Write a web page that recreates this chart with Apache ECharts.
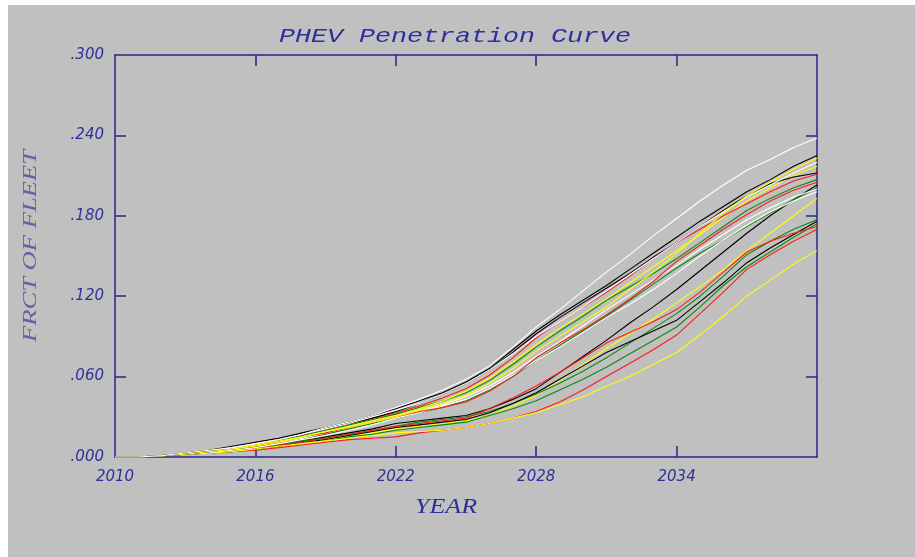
<!DOCTYPE html>
<html>
<head>
<meta charset="utf-8">
<script src="https://cdn.jsdelivr.net/npm/echarts@6/dist/echarts.min.js"></script>
<style>
  html, body { margin: 0; padding: 0; background: #ffffff; }
  #chart { width: 915px; height: 557px; }
</style>
</head>
<body>
<div id="chart"></div>
<script>
// Simulated PHEV share of the vehicle fleet, one run per line
const years = [2010, 2011, 2012, 2013, 2014, 2015, 2016, 2017, 2018, 2019, 2020,
  2021, 2022, 2023, 2024, 2025, 2026, 2027, 2028, 2029, 2030,
  2031, 2032, 2033, 2034, 2035, 2036, 2037, 2038, 2039, 2040];

const xTicks = [2010, 2016, 2022, 2028, 2034];
const xInnerTicks = [2016, 2022, 2028, 2034];
const yTicks = [0, 0.06, 0.12, 0.18, 0.24, 0.30];
const yInnerTicks = [0.06, 0.12, 0.18, 0.24];

// faster-adoption runs
const runW1 = [0, 0, .001, .003, .005, .007, .010, .013, .017, .022, .026, .031, .037, .043, .050, .058, .068, .082, .097, .110, .124, .138, .151, .165, .178, .191, .203, .214, .222, .231, .238];
const runK1 = [0, 0, .001, .003, .005, .008, .011, .014, .018, .022, .026, .031, .036, .042, .048, .056, .066, .080, .094, .106, .117, .128, .140, .152, .164, .176, .187, .198, .207, .217, .225];
const runK2 = [0, 0, .001, .002, .004, .007, .010, .013, .017, .021, .025, .029, .034, .040, .047, .055, .065, .078, .092, .104, .115, .126, .137, .149, .160, .172, .184, .195, .204, .209, .212];
const runR1 = [0, 0, .001, .003, .005, .007, .011, .014, .017, .021, .025, .029, .033, .038, .044, .051, .061, .074, .089, .101, .112, .123, .135, .148, .160, .170, .180, .189, .198, .206, .211];
const runG1 = [0, 0, .001, .002, .004, .006, .009, .012, .016, .020, .024, .028, .032, .037, .042, .048, .057, .069, .082, .094, .105, .117, .127, .137, .148, .160, .172, .184, .193, .201, .207];
const runY1 = [0, 0, .001, .002, .004, .006, .009, .012, .015, .019, .022, .026, .030, .035, .040, .046, .055, .066, .079, .090, .101, .112, .125, .138, .152, .167, .182, .195, .205, .215, .223];
const runW2 = [0, 0, .001, .003, .005, .007, .010, .013, .017, .021, .025, .030, .035, .040, .047, .055, .065, .077, .090, .101, .112, .124, .136, .148, .160, .172, .183, .194, .203, .212, .220];
const runR2 = [0, 0, .001, .002, .004, .006, .008, .011, .015, .018, .022, .026, .030, .034, .037, .041, .049, .060, .074, .085, .095, .106, .118, .131, .146, .158, .170, .181, .191, .199, .205];
const runW3 = [0, 0, .001, .002, .004, .006, .009, .011, .014, .018, .022, .026, .030, .034, .039, .045, .053, .063, .075, .086, .098, .110, .121, .132, .143, .155, .166, .177, .186, .194, .200];
const runG2 = [0, 0, .001, .002, .004, .005, .008, .010, .013, .017, .021, .025, .029, .033, .037, .042, .050, .060, .072, .083, .094, .105, .117, .129, .141, .152, .162, .172, .182, .192, .201];
const runW4 = [0, 0, .001, .002, .003, .005, .007, .010, .013, .016, .020, .024, .029, .033, .038, .043, .051, .061, .072, .082, .093, .104, .114, .125, .137, .150, .162, .173, .183, .191, .198];
const runY2 = [0, 0, .001, .002, .004, .006, .008, .011, .015, .019, .023, .027, .031, .036, .042, .049, .059, .071, .084, .096, .107, .118, .130, .142, .154, .166, .179, .191, .201, .210, .217];

// slower-adoption runs
const runK3 = [0, 0, .001, .002, .003, .005, .007, .009, .012, .015, .018, .021, .025, .027, .029, .031, .036, .043, .051, .063, .075, .087, .100, .112, .125, .139, .153, .167, .180, .192, .203];
const runY3 = [0, 0, .001, .002, .003, .004, .006, .008, .010, .013, .015, .018, .021, .023, .025, .027, .031, .038, .046, .057, .069, .081, .092, .103, .115, .127, .140, .154, .167, .180, .193];
const runG3 = [0, 0, .001, .002, .003, .005, .007, .009, .012, .014, .017, .020, .023, .026, .028, .030, .034, .040, .047, .055, .064, .074, .085, .096, .107, .120, .135, .151, .161, .170, .177];
const runK4 = [0, 0, .001, .002, .003, .004, .006, .008, .011, .013, .016, .019, .022, .024, .026, .028, .033, .040, .048, .058, .068, .078, .086, .094, .102, .116, .130, .145, .156, .166, .176];
const runG4 = [0, 0, .001, .002, .003, .004, .006, .008, .010, .012, .015, .017, .020, .022, .024, .026, .031, .036, .042, .050, .058, .067, .077, .087, .097, .112, .128, .142, .153, .164, .174];
const runR3 = [0, 0, .001, .002, .003, .005, .007, .009, .011, .014, .017, .020, .023, .025, .027, .029, .036, .044, .053, .063, .074, .085, .093, .101, .110, .123, .138, .153, .161, .167, .172];
const runR4 = [0, 0, .001, .002, .003, .004, .005, .007, .009, .011, .013, .014, .015, .018, .020, .022, .025, .029, .034, .041, .050, .060, .070, .080, .091, .107, .123, .140, .151, .161, .170];
const runY4 = [0, 0, .001, .002, .003, .004, .006, .008, .010, .012, .014, .016, .018, .019, .020, .022, .025, .029, .033, .039, .045, .053, .060, .069, .078, .091, .105, .120, .132, .144, .154];

const PALETTE = { W: '#ffffff', K: '#000000', R: '#ff1a1a', G: '#0a8a0a', Y: '#ffff00' };

// drawing order (later entries sit on top)
const runs = [
  ['K3', runK3, 'K'], ['Y3', runY3, 'Y'], ['G3', runG3, 'G'], ['K4', runK4, 'K'],
  ['G4', runG4, 'G'], ['R3', runR3, 'R'], ['R4', runR4, 'R'], ['Y4', runY4, 'Y'],
  ['G2', runG2, 'G'], ['W4', runW4, 'W'], ['W3', runW3, 'W'], ['R2', runR2, 'R'],
  ['G1', runG1, 'G'], ['Y2', runY2, 'Y'], ['R1', runR1, 'R'], ['K2', runK2, 'K'],
  ['W2', runW2, 'W'], ['Y1', runY1, 'Y'], ['K1', runK1, 'K'], ['W1', runW1, 'W']
];

const INK = '#2f2f9c';
const FRAME = '#24248a';

const chart = echarts.init(document.getElementById('chart'), null, { renderer: 'canvas' });

// every side of the plot is a framed axis with inward ticks
function frameAxis(tickValues) {
  return {
    axisLine: { show: true, onZero: false, lineStyle: { color: FRAME, width: 1.5 } },
    axisTick: { show: true, inside: true, length: 11, customValues: tickValues,
      lineStyle: { color: FRAME, width: 1.5 } },
    splitLine: { show: false }
  };
}

chart.setOption({
  backgroundColor: '#c0c0c0',
  animation: false,
  grid: { left: 115, right: 98, top: 55, bottom: 100, containLabel: false },
  xAxis: [
    Object.assign({
      type: 'value', min: 2010, max: 2040, interval: 6, position: 'bottom',
      axisLabel: {
        show: true, margin: 13, color: INK, fontSize: 15, fontStyle: 'italic',
        fontFamily: 'DejaVu Sans', customValues: xTicks,
        formatter: v => String(v)
      }
    }, frameAxis(xInnerTicks)),
    Object.assign({
      type: 'value', min: 2010, max: 2040, interval: 6, position: 'top',
      axisLabel: { show: false }
    }, frameAxis(xInnerTicks))
  ],
  yAxis: [
    Object.assign({
      type: 'value', min: 0, max: 0.3, interval: 0.06, position: 'left',
      axisLabel: {
        show: true, margin: 11, color: INK, fontSize: 15, fontStyle: 'italic',
        fontFamily: 'DejaVu Sans', customValues: yTicks,
        formatter: v => v.toFixed(3).replace(/^0/, '')
      }
    }, frameAxis(yInnerTicks)),
    Object.assign({
      type: 'value', min: 0, max: 0.3, interval: 0.06, position: 'right',
      axisLabel: { show: false }
    }, frameAxis(yInnerTicks))
  ],
  graphic: [
    { type: 'rect', left: 0, top: 0, shape: { width: 915, height: 5 }, style: { fill: '#ffffff' }, silent: true },
    { type: 'rect', left: 0, top: 0, shape: { width: 8, height: 557 }, style: { fill: '#ffffff' }, silent: true },
    {
      type: 'text', x: 455, y: 36, scaleX: 1.27,
      style: {
        text: 'PHEV Penetration Curve', fill: INK, fontSize: 21, fontStyle: 'italic',
        fontFamily: 'Liberation Mono', textAlign: 'center', textVerticalAlign: 'middle'
      }
    },
    {
      type: 'text', x: 446, y: 508, scaleX: 1.3,
      style: {
        text: 'YEAR', fill: INK, fontSize: 20, fontStyle: 'italic',
        fontFamily: 'Liberation Serif', textAlign: 'center', textVerticalAlign: 'middle'
      }
    },
    {
      type: 'text', x: 31, y: 246, rotation: Math.PI / 2, scaleX: 1.4,
      style: {
        text: 'FRCT OF FLEET', fill: '#6262a6', fontSize: 19, fontStyle: 'italic',
        fontFamily: 'Liberation Serif', textAlign: 'center', textVerticalAlign: 'middle'
      }
    }
  ],
  series: runs.map(([name, vals, c]) => ({
    name: name,
    type: 'line',
    xAxisIndex: 0,
    yAxisIndex: 0,
    showSymbol: false,
    symbol: 'none',
    clip: true,
    lineStyle: { color: PALETTE[c], width: 1.1 },
    data: years.map((y, i) => [y, vals[i]])
  }))
});
</script>
</body>
</html>
